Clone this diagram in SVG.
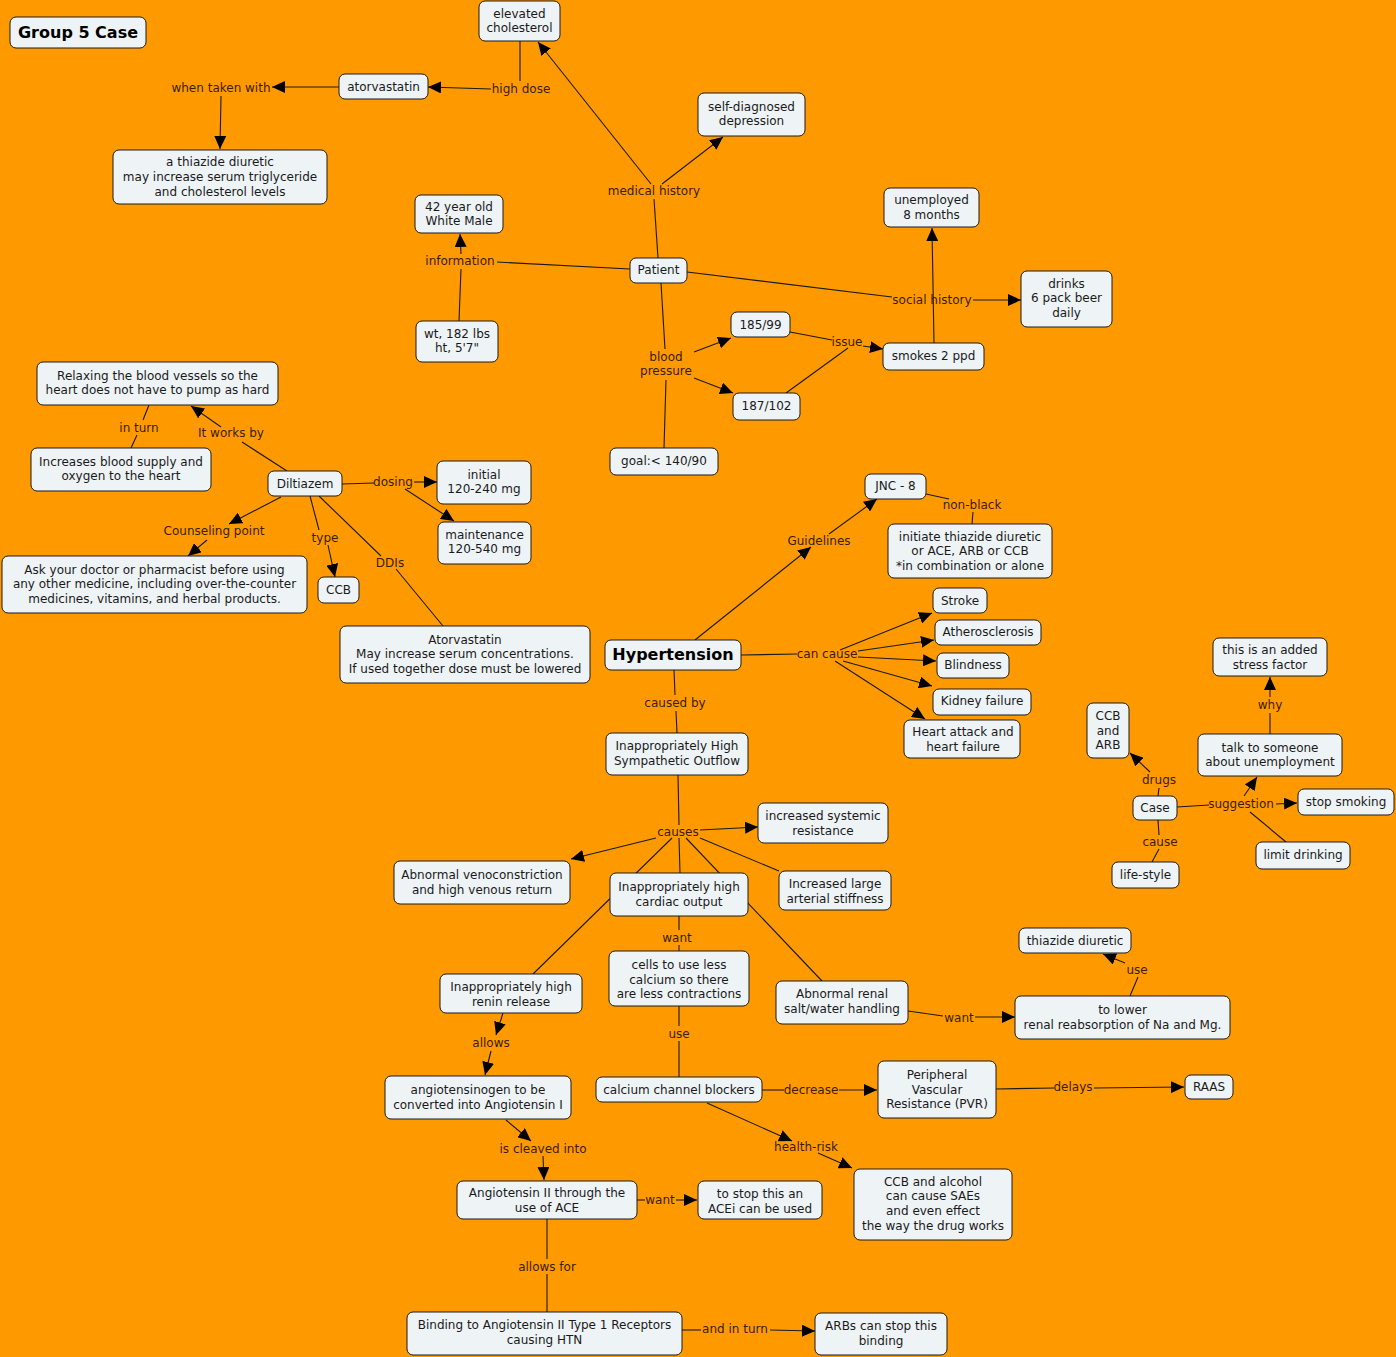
<svg xmlns="http://www.w3.org/2000/svg" width="1396" height="1357" viewBox="0 0 1396 1357">
<style>
.bg{fill:#FF9900}
.n rect{fill:#EEF3F6;stroke:#1a1a1a;stroke-width:1}
.n text{font-family:"DejaVu Sans",Verdana,sans-serif;font-size:12px;fill:#1a1a1a;text-anchor:middle}
.n text.b{font-weight:bold;font-size:16px;fill:#000}
.l{font-family:"DejaVu Sans",Verdana,sans-serif;font-size:12px;fill:#3b1d00;text-anchor:middle}
.c line{stroke:#1a1a1a;stroke-width:1.1;fill:none}
.c line.a{marker-end:url(#ah)}
</style>
<defs>
<marker id="ah" markerUnits="userSpaceOnUse" markerWidth="14" markerHeight="12" refX="13" refY="6" orient="auto">
<path d="M0,0 L13,6 L0,12 z" fill="#000"/>
</marker>
</defs>
<rect class="bg" x="0" y="0" width="1396" height="1357"/>

<g id="connectors" class="c">
<!-- atorvastatin / cholesterol -->
<line class="a" x1="339" y1="87" x2="272" y2="87"/>
<line class="a" x1="221" y1="96" x2="220" y2="149"/>
<line x1="520" y1="41" x2="520" y2="81"/>
<line class="a" x1="491" y1="89" x2="428" y2="87"/>
<!-- patient medical history -->
<line x1="658" y1="258" x2="654" y2="199"/>
<line class="a" x1="651" y1="184" x2="538" y2="42"/>
<line class="a" x1="662" y1="184" x2="723" y2="137"/>
<!-- information -->
<line x1="630" y1="269" x2="497" y2="262"/>
<line class="a" x1="461" y1="254" x2="460" y2="234"/>
<line x1="459" y1="321" x2="461" y2="269"/>
<!-- social history -->
<line x1="687" y1="272" x2="892" y2="297"/>
<line class="a" x1="973" y1="300" x2="1021" y2="300"/>
<line class="a" x1="934" y1="343" x2="932" y2="228"/>
<!-- blood pressure -->
<line x1="661" y1="283" x2="665" y2="349"/>
<line x1="666" y1="380" x2="664" y2="448"/>
<line class="a" x1="694" y1="352" x2="731" y2="338"/>
<line class="a" x1="694" y1="378" x2="733" y2="393"/>
<line x1="790" y1="332" x2="832" y2="340"/>
<line class="a" x1="863" y1="346" x2="883" y2="349"/>
<line x1="786" y1="393" x2="848" y2="348"/>
<!-- diltiazem -->
<line x1="287" y1="471" x2="242" y2="442"/>
<line class="a" x1="221" y1="427" x2="191" y2="406"/>
<line x1="131" y1="448" x2="137" y2="435"/>
<line x1="143" y1="420" x2="149" y2="405"/>
<line x1="342" y1="484" x2="374" y2="483"/>
<line class="a" x1="414" y1="482" x2="437" y2="482"/>
<line class="a" x1="405" y1="489" x2="454" y2="521"/>
<line class="a" x1="281" y1="497" x2="229" y2="524"/>
<line class="a" x1="207" y1="540" x2="188" y2="556"/>
<line x1="310" y1="496" x2="319" y2="530"/>
<line class="a" x1="328" y1="545" x2="335" y2="577"/>
<line x1="319" y1="496" x2="381" y2="556"/>
<line x1="396" y1="569" x2="443" y2="626"/>
<!-- hypertension -->
<line class="a" x1="695" y1="640" x2="811" y2="547"/>
<line class="a" x1="829" y1="534" x2="877" y2="499"/>
<line x1="926" y1="494" x2="949" y2="499"/>
<line x1="973" y1="512" x2="972" y2="524"/>
<line x1="741" y1="655" x2="797" y2="654"/>
<line class="a" x1="840" y1="650" x2="932" y2="613"/>
<line class="a" x1="858" y1="651" x2="934" y2="640"/>
<line class="a" x1="858" y1="657" x2="936" y2="661"/>
<line class="a" x1="843" y1="661" x2="932" y2="686"/>
<line class="a" x1="835" y1="661" x2="925" y2="719"/>
<line x1="674" y1="670" x2="675" y2="695"/>
<line x1="676" y1="711" x2="677" y2="733"/>
<!-- causes -->
<line x1="678" y1="775" x2="679" y2="825"/>
<line class="a" x1="700" y1="830" x2="758" y2="827"/>
<line class="a" x1="656" y1="838" x2="571" y2="859"/>
<line x1="672" y1="838" x2="533" y2="974"/>
<line x1="679" y1="838" x2="680" y2="873"/>
<line x1="686" y1="838" x2="822" y2="981"/>
<line x1="700" y1="838" x2="779" y2="871"/>
<line x1="679" y1="916" x2="679" y2="930"/>
<line x1="679" y1="945" x2="679" y2="951"/>
<line x1="679" y1="1006" x2="679" y2="1026"/>
<line x1="679" y1="1041" x2="679" y2="1077"/>
<line class="a" x1="503" y1="1013" x2="496" y2="1035"/>
<line class="a" x1="491" y1="1051" x2="485" y2="1075"/>
<line x1="908" y1="1011" x2="943" y2="1016"/>
<line class="a" x1="975" y1="1017" x2="1015" y2="1017"/>
<line x1="1130" y1="996" x2="1138" y2="977"/>
<line class="a" x1="1125" y1="963" x2="1103" y2="954"/>
<line x1="762" y1="1090" x2="784" y2="1090"/>
<line class="a" x1="839" y1="1090" x2="877" y2="1090"/>
<line x1="996" y1="1089" x2="1054" y2="1088"/>
<line class="a" x1="1094" y1="1088" x2="1184" y2="1087"/>
<line class="a" x1="707" y1="1103" x2="792" y2="1141"/>
<line class="a" x1="818" y1="1153" x2="852" y2="1168"/>
<line class="a" x1="506" y1="1120" x2="531" y2="1141"/>
<line class="a" x1="543" y1="1156" x2="544" y2="1180"/>
<line x1="637" y1="1200" x2="645" y2="1200"/>
<line class="a" x1="676" y1="1200" x2="697" y2="1200"/>
<line x1="547" y1="1219" x2="547" y2="1259"/>
<line x1="547" y1="1274" x2="547" y2="1312"/>
<line x1="682" y1="1330" x2="701" y2="1330"/>
<line class="a" x1="770" y1="1330" x2="815" y2="1331"/>
<!-- case -->
<line x1="1158" y1="796" x2="1159" y2="788"/>
<line class="a" x1="1150" y1="772" x2="1130" y2="753"/>
<line x1="1158" y1="820" x2="1159" y2="835"/>
<line x1="1159" y1="849" x2="1152" y2="862"/>
<line x1="1177" y1="807" x2="1209" y2="805"/>
<line class="a" x1="1276" y1="804" x2="1297" y2="803"/>
<line class="a" x1="1244" y1="796" x2="1257" y2="777"/>
<line x1="1286" y1="842" x2="1250" y2="812"/>
<line x1="1270" y1="734" x2="1270" y2="713"/>
<line class="a" x1="1270" y1="697" x2="1270" y2="677"/>
</g>

<g id="labels">
<text class="l" x="221" y="92">when taken with</text>
<text class="l" x="521" y="93">high dose</text>
<text class="l" x="654" y="195">medical history</text>
<text class="l" x="460" y="265">information</text>
<text class="l" x="932" y="304">social history</text>
<text class="l" x="847" y="346">issue</text>
<text class="l" x="666" y="361">blood</text>
<text class="l" x="666" y="375">pressure</text>
<text class="l" x="139" y="432">in turn</text>
<text class="l" x="231" y="437">It works by</text>
<text class="l" x="393" y="486">dosing</text>
<text class="l" x="214" y="535">Counseling point</text>
<text class="l" x="325" y="542">type</text>
<text class="l" x="390" y="567">DDIs</text>
<text class="l" x="972" y="509">non-black</text>
<text class="l" x="819" y="545">Guidelines</text>
<text class="l" x="827" y="658">can cause</text>
<text class="l" x="675" y="707">caused by</text>
<text class="l" x="1270" y="709">why</text>
<text class="l" x="1159" y="784">drugs</text>
<text class="l" x="1241" y="808">suggestion</text>
<text class="l" x="1160" y="846">cause</text>
<text class="l" x="678" y="836">causes</text>
<text class="l" x="677" y="942">want</text>
<text class="l" x="1137" y="974">use</text>
<text class="l" x="959" y="1022">want</text>
<text class="l" x="491" y="1047">allows</text>
<text class="l" x="679" y="1038">use</text>
<text class="l" x="811" y="1094">decrease</text>
<text class="l" x="1073" y="1091">delays</text>
<text class="l" x="543" y="1153">is cleaved into</text>
<text class="l" x="806" y="1151">health-risk</text>
<text class="l" x="660" y="1204">want</text>
<text class="l" x="547" y="1271">allows for</text>
<text class="l" x="735" y="1333">and in turn</text>
</g>

<g id="n-group5" class="n"><rect x="10" y="17" width="136" height="31" rx="6"/><text class="b" x="78" y="38">Group 5 Case</text></g>
<g id="n-elevated" class="n"><rect x="479" y="1" width="81" height="40" rx="6"/><text x="519.5" y="18">elevated</text><text x="519.5" y="32">cholesterol</text></g>
<g id="n-atorvastatin" class="n"><rect x="339" y="74" width="89" height="25" rx="6"/><text x="383.5" y="91">atorvastatin</text></g>
<g id="n-thiazide-chol" class="n"><rect x="113" y="150" width="214" height="54" rx="6"/><text x="220" y="166">a thiazide diuretic</text><text x="220" y="181">may increase serum triglyceride</text><text x="220" y="196">and cholesterol levels</text></g>
<g id="n-depression" class="n"><rect x="698" y="93" width="107" height="43" rx="6"/><text x="751.5" y="111">self-diagnosed</text><text x="751.5" y="125">depression</text></g>
<g id="n-42" class="n"><rect x="415" y="195" width="88" height="38" rx="6"/><text x="459" y="211">42 year old</text><text x="459" y="225">White Male</text></g>
<g id="n-patient" class="n"><rect x="630" y="258" width="57" height="25" rx="6"/><text x="658.5" y="274">Patient</text></g>
<g id="n-unemployed" class="n"><rect x="884" y="188" width="95" height="39" rx="6"/><text x="931.5" y="204">unemployed</text><text x="931.5" y="219">8 months</text></g>
<g id="n-drinks" class="n"><rect x="1021" y="271" width="91" height="56" rx="6"/><text x="1066.5" y="288">drinks</text><text x="1066.5" y="302">6 pack beer</text><text x="1066.5" y="317">daily</text></g>
<g id="n-wt" class="n"><rect x="416" y="321" width="82" height="41" rx="6"/><text x="457" y="338">wt, 182 lbs</text><text x="457" y="352">ht, 5'7"</text></g>
<g id="n-18599" class="n"><rect x="731" y="312" width="59" height="25" rx="6"/><text x="760.5" y="329">185/99</text></g>
<g id="n-smokes" class="n"><rect x="883" y="343" width="101" height="27" rx="6"/><text x="933.5" y="360">smokes 2 ppd</text></g>
<g id="n-187102" class="n"><rect x="733" y="393" width="67" height="27" rx="6"/><text x="766.5" y="410">187/102</text></g>
<g id="n-goal" class="n"><rect x="610" y="448" width="108" height="27" rx="6"/><text x="664" y="465">goal:&lt; 140/90</text></g>
<g id="n-relaxing" class="n"><rect x="37" y="362" width="241" height="43" rx="6"/><text x="157.5" y="380">Relaxing the blood vessels so the</text><text x="157.5" y="394">heart does not have to pump as hard</text></g>
<g id="n-increases" class="n"><rect x="31" y="448" width="180" height="43" rx="6"/><text x="121" y="466">Increases blood supply and</text><text x="121" y="480">oxygen to the heart</text></g>
<g id="n-diltiazem" class="n"><rect x="268" y="471" width="74" height="25" rx="6"/><text x="305" y="488">Diltiazem</text></g>
<g id="n-initial" class="n"><rect x="437" y="461" width="94" height="43" rx="6"/><text x="484" y="479">initial</text><text x="484" y="493">120-240 mg</text></g>
<g id="n-maint" class="n"><rect x="438" y="522" width="93" height="42" rx="6"/><text x="484.5" y="539">maintenance</text><text x="484.5" y="553">120-540 mg</text></g>
<g id="n-ask" class="n"><rect x="2" y="556" width="305" height="57" rx="6"/><text x="154.5" y="574">Ask your doctor or pharmacist before using</text><text x="154.5" y="588">any other medicine, including over-the-counter</text><text x="154.5" y="603">medicines, vitamins, and herbal products.</text></g>
<g id="n-ccb1" class="n"><rect x="318" y="577" width="41" height="26" rx="6"/><text x="338.5" y="594">CCB</text></g>
<g id="n-atorva2" class="n"><rect x="340" y="626" width="250" height="57" rx="6"/><text x="465" y="644">Atorvastatin</text><text x="465" y="658">May increase serum concentrations.</text><text x="465" y="673">If used together dose must be lowered</text></g>
<g id="n-jnc" class="n"><rect x="865" y="474" width="61" height="25" rx="6"/><text x="895.5" y="490">JNC - 8</text></g>
<g id="n-initiate" class="n"><rect x="888" y="524" width="164" height="54" rx="6"/><text x="970" y="541">initiate thiazide diuretic</text><text x="970" y="555">or ACE, ARB or CCB</text><text x="970" y="570">*in combination or alone</text></g>
<g id="n-htn" class="n"><rect x="605" y="640" width="136" height="30" rx="6"/><text class="b" x="673" y="660">Hypertension</text></g>
<g id="n-stroke" class="n"><rect x="933" y="588" width="54" height="25" rx="6"/><text x="960" y="605">Stroke</text></g>
<g id="n-athero" class="n"><rect x="935" y="620" width="106" height="25" rx="6"/><text x="988" y="636">Atherosclerosis</text></g>
<g id="n-blind" class="n"><rect x="937" y="653" width="72" height="25" rx="6"/><text x="973" y="669">Blindness</text></g>
<g id="n-kidney" class="n"><rect x="933" y="689" width="98" height="26" rx="6"/><text x="982" y="705">Kidney failure</text></g>
<g id="n-heart" class="n"><rect x="904" y="720" width="116" height="38" rx="6"/><text x="963" y="736">Heart attack and</text><text x="963" y="751">heart failure</text></g>
<g id="n-symp" class="n"><rect x="606" y="733" width="142" height="42" rx="6"/><text x="677" y="750">Inappropriately High</text><text x="677" y="765">Sympathetic Outflow</text></g>
<g id="n-stress" class="n"><rect x="1213" y="638" width="114" height="38" rx="6"/><text x="1270" y="654">this is an added</text><text x="1270" y="669">stress factor</text></g>
<g id="n-ccbarb" class="n"><rect x="1087" y="703" width="42" height="55" rx="6"/><text x="1108" y="720">CCB</text><text x="1108" y="735">and</text><text x="1108" y="749">ARB</text></g>
<g id="n-talk" class="n"><rect x="1198" y="734" width="144" height="42" rx="6"/><text x="1270" y="752">talk to someone</text><text x="1270" y="766">about unemployment</text></g>
<g id="n-case" class="n"><rect x="1133" y="796" width="44" height="24" rx="6"/><text x="1155" y="812">Case</text></g>
<g id="n-stopsmoking" class="n"><rect x="1298" y="789" width="96" height="26" rx="6"/><text x="1346" y="806">stop smoking</text></g>
<g id="n-limit" class="n"><rect x="1256" y="842" width="94" height="27" rx="6"/><text x="1303" y="859">limit drinking</text></g>
<g id="n-lifestyle" class="n"><rect x="1112" y="862" width="67" height="26" rx="6"/><text x="1145.5" y="879">life-style</text></g>
<g id="n-systemic" class="n"><rect x="758" y="803" width="130" height="40" rx="6"/><text x="823" y="820">increased systemic</text><text x="823" y="835">resistance</text></g>
<g id="n-veno" class="n"><rect x="394" y="861" width="176" height="43" rx="6"/><text x="482" y="879">Abnormal venoconstriction</text><text x="482" y="894">and high venous return</text></g>
<g id="n-cardiac" class="n"><rect x="610" y="873" width="138" height="43" rx="6"/><text x="679" y="891">Inappropriately high</text><text x="679" y="906">cardiac output</text></g>
<g id="n-arterial" class="n"><rect x="779" y="871" width="112" height="39" rx="6"/><text x="835" y="888">Increased large</text><text x="835" y="903">arterial stiffness</text></g>
<g id="n-cells" class="n"><rect x="609" y="951" width="140" height="55" rx="6"/><text x="679" y="969">cells to use less</text><text x="679" y="984">calcium so there</text><text x="679" y="998">are less contractions</text></g>
<g id="n-renin" class="n"><rect x="440" y="974" width="142" height="39" rx="6"/><text x="511" y="991">Inappropriately high</text><text x="511" y="1006">renin release</text></g>
<g id="n-renal" class="n"><rect x="776" y="981" width="132" height="43" rx="6"/><text x="842" y="998">Abnormal renal</text><text x="842" y="1013">salt/water handling</text></g>
<g id="n-thiazide" class="n"><rect x="1019" y="928" width="112" height="25" rx="6"/><text x="1075" y="945">thiazide diuretic</text></g>
<g id="n-tolower" class="n"><rect x="1015" y="996" width="215" height="43" rx="6"/><text x="1122.5" y="1014">to lower</text><text x="1122.5" y="1029">renal reabsorption of Na and Mg.</text></g>
<g id="n-angiotensinogen" class="n"><rect x="385" y="1076" width="186" height="43" rx="6"/><text x="478" y="1094">angiotensinogen to be</text><text x="478" y="1109">converted into Angiotensin I</text></g>
<g id="n-ccblockers" class="n"><rect x="596" y="1077" width="166" height="25" rx="6"/><text x="679" y="1094">calcium channel blockers</text></g>
<g id="n-pvr" class="n"><rect x="878" y="1061" width="118" height="57" rx="6"/><text x="937" y="1079">Peripheral</text><text x="937" y="1094">Vascular</text><text x="937" y="1108">Resistance (PVR)</text></g>
<g id="n-raas" class="n"><rect x="1185" y="1075" width="48" height="24" rx="6"/><text x="1209" y="1091">RAAS</text></g>
<g id="n-angII" class="n"><rect x="457" y="1181" width="180" height="38" rx="6"/><text x="547" y="1197">Angiotensin II through the</text><text x="547" y="1212">use of ACE</text></g>
<g id="n-acei" class="n"><rect x="698" y="1181" width="124" height="38" rx="6"/><text x="760" y="1198">to stop this an</text><text x="760" y="1213">ACEi can be used</text></g>
<g id="n-alcohol" class="n"><rect x="854" y="1169" width="158" height="71" rx="6"/><text x="933" y="1186">CCB and alcohol</text><text x="933" y="1200">can cause SAEs</text><text x="933" y="1215">and even effect</text><text x="933" y="1230">the way the drug works</text></g>
<g id="n-binding" class="n"><rect x="407" y="1312" width="275" height="43" rx="6"/><text x="544.5" y="1329">Binding to Angiotensin II Type 1 Receptors</text><text x="544.5" y="1344">causing HTN</text></g>
<g id="n-arbs" class="n"><rect x="815" y="1313" width="132" height="42" rx="6"/><text x="881" y="1330">ARBs can stop this</text><text x="881" y="1345">binding</text></g>
</svg>
